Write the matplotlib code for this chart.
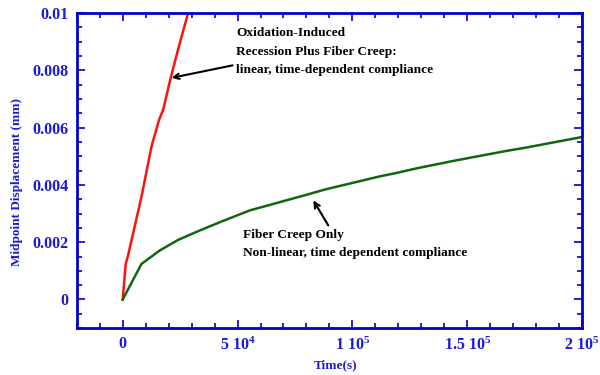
import numpy as np
import matplotlib.pyplot as plt
from matplotlib.ticker import MultipleLocator, FixedLocator

# creep with oxidation-induced recession (red) and fiber creep only (green)
t_ox = [0, 1300, 2300, 8150, 12500, 15800, 17600, 20500, 24100, 28800]
d_ox = [0, 0.00124, 0.00153, 0.00358, 0.00533, 0.00627, 0.00662, 0.00761, 0.00873, 0.0101]

t_fc = [0, 8150, 16100, 24100, 33550, 42300, 55300, 68400, 79300, 88000,
        112000, 119300, 128000, 144000, 167200, 176000, 199100, 200000]
d_fc = [0, 0.00124, 0.00171, 0.00208, 0.00241, 0.0027, 0.00311, 0.0034, 0.00364, 0.00384,
        0.0043, 0.00442, 0.00458, 0.00484, 0.00519, 0.00531, 0.00566, 0.00568]

xticks = [0, 5e4, 1e5, 1.5e5, 2e5]
xlabels = ["0", r"5 10$^{4}$", r"1 10$^{5}$", r"1.5 10$^{5}$", r"2 10$^{5}$"]
yticks = [0, 0.002, 0.004, 0.006, 0.008, 0.01]
ylabels = ["0", "0.002", "0.004", "0.006", "0.008", "0.01"]

plt.rcParams['font.family'] = ['Liberation Serif', 'DejaVu Serif']
plt.rcParams['font.weight'] = 'bold'
plt.rcParams['mathtext.fontset'] = 'custom'
plt.rcParams['mathtext.rm'] = 'Liberation Serif:bold'
plt.rcParams['mathtext.bf'] = 'Liberation Serif:bold'
plt.rcParams['mathtext.it'] = 'Liberation Serif:bold'

blue = '#0000cc'
tblue = '#1a1ad6'

fig = plt.figure(figsize=(6, 3.75), dpi=100)
ax = fig.add_axes([0.128, 0.125, 0.842, 0.840])

ax.plot(t_ox, d_ox, color='#ff1010', lw=1.8)
ax.plot(t_fc, d_fc, color='#116611', lw=1.8)

ax.set_xlim(-2e4, 2e5)
ax.set_ylim(-0.001, 0.01)

ax.xaxis.set_major_locator(FixedLocator(xticks))
ax.set_xticklabels(xlabels, fontweight='bold')
ax.xaxis.set_minor_locator(MultipleLocator(1e4))
ax.yaxis.set_major_locator(FixedLocator(yticks))
ax.set_yticklabels(ylabels, fontweight='bold')
ax.yaxis.set_minor_locator(MultipleLocator(0.0005))

for s in ax.spines.values():
    s.set_color(blue)
    s.set_linewidth(2)
ax.tick_params(which='both', direction='in', top=True, right=True, color=blue, width=1.2)
ax.tick_params(which='major', length=6, labelsize=11.5, labelcolor=tblue, pad=6)
ax.tick_params(which='minor', length=3.5)

ax.set_xlabel("Time(s)", fontsize=9.5, fontweight='bold', color=tblue)
ax.set_ylabel("Midpoint Displacement (mm)", fontsize=9.5, fontweight='bold', color=tblue)
ax.xaxis.set_label_coords(0.513, -0.099)
ax.yaxis.set_label_coords(-0.107, 0.463)

ax.annotate("Oxidation-Induced\nRecession Plus Fiber Creep:\nlinear, time-dependent compliance",
            xy=(21300, 0.00774), xytext=(49500, 0.00865), fontsize=9.6, fontweight='bold',
            linespacing=1.7, va='center', ha='left',
            arrowprops=dict(arrowstyle='->', color='black', lw=1.5, shrinkA=0, shrinkB=0,
                            relpos=(-0.02, 0.22)))
ax.annotate("", xy=(83000, 0.00346), xytext=(89500, 0.00259),
            arrowprops=dict(arrowstyle='->', color='black', lw=1.5, shrinkA=0, shrinkB=0))
ax.text(52500, 0.00194, "Fiber Creep Only\nNon-linear, time dependent compliance",
        fontsize=9.6, fontweight='bold', linespacing=1.7, va='center', ha='left')

fig.savefig("out.png", dpi=100)
